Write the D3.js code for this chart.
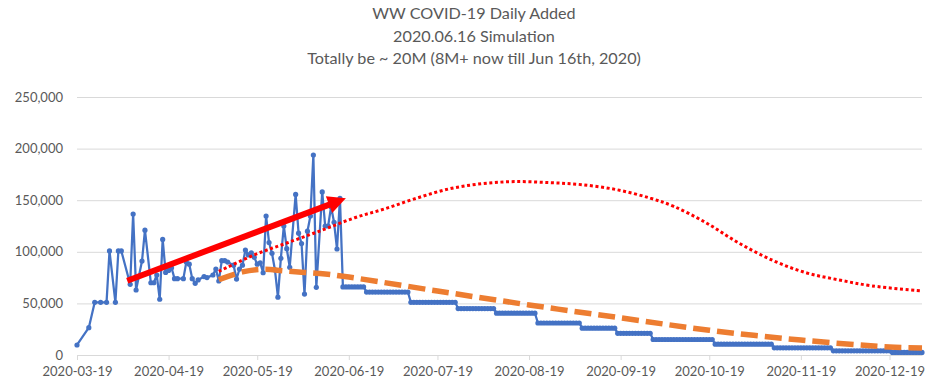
<!DOCTYPE html>
<html>
<head>
<meta charset="utf-8">
<script src="https://cdn.jsdelivr.net/npm/d3@7"></script>
<style>
  html, body { margin: 0; padding: 0; background: #fff; }
  svg { display: block; }
  text { font-family: Lato, "Open Sans", sans-serif; fill: #595959; }
</style>
</head>
<body>
<svg id="chart" width="935" height="392"></svg>
<script>
// ---------- data ----------
const titleLines = [
  "WW COVID-19 Daily Added",
  "2020.06.16 Simulation",
  "Totally be ~ 20M (8M+ now till Jun 16th, 2020)"
];

// actual daily added cases (blue)
const actualDates = [
  "2020-03-19","2020-03-23","2020-03-25","2020-03-27","2020-03-29","2020-03-30",
  "2020-04-01","2020-04-02","2020-04-03","2020-04-06","2020-04-07","2020-04-08",
  "2020-04-10","2020-04-11","2020-04-13","2020-04-14","2020-04-15","2020-04-16",
  "2020-04-17","2020-04-18","2020-04-19","2020-04-20","2020-04-21","2020-04-22",
  "2020-04-24","2020-04-25","2020-04-26","2020-04-27","2020-04-28","2020-04-29",
  "2020-05-01","2020-05-02","2020-05-04","2020-05-05","2020-05-06","2020-05-07",
  "2020-05-08","2020-05-09","2020-05-11","2020-05-12","2020-05-13","2020-05-14",
  "2020-05-15","2020-05-16","2020-05-17","2020-05-18","2020-05-19","2020-05-20",
  "2020-05-21","2020-05-22","2020-05-23","2020-05-24","2020-05-25","2020-05-26",
  "2020-05-27","2020-05-28","2020-05-29","2020-05-30","2020-06-01","2020-06-02",
  "2020-06-03","2020-06-04","2020-06-05","2020-06-06","2020-06-07","2020-06-08",
  "2020-06-10","2020-06-11","2020-06-12","2020-06-13","2020-06-14","2020-06-15",
  "2020-06-16"
];
const actualValues = [
  9700, 26500, 51000, 51000, 51000, 100800,
  51000, 100800, 100800, 68500, 136600, 63000,
  91000, 121000, 70000, 70000, 77500, 54000,
  112000, 80000, 82000, 84500, 74000, 74000,
  74000, 90000, 88000, 74000, 69500, 72700,
  76000, 75000, 77500, 83300, 71700, 91400,
  91400, 90000, 87000, 73600, 83300, 87000,
  101700, 97000, 99000, 94600, 88000, 89400,
  79700, 134700, 109000, 98500, 82400, 56000,
  93700, 125000, 103000, 85000, 155600, 118000,
  108000, 59000, 120000, 134700, 193800, 65600,
  158000, 125000, 125000, 143700, 128600, 102700,
  151800
];

// simulated step levels (blue, daily after 06-16)
const stepStartDates = [
  "2020-06-17","2020-06-25","2020-07-10","2020-07-26","2020-08-08","2020-08-22",
  "2020-09-06","2020-09-18","2020-09-30","2020-10-21","2020-11-10","2020-11-30",
  "2020-12-20"
];
const stepLevels = [66000, 61000, 51000, 45000, 40500, 31000, 26000, 21000, 15000, 10500, 7000, 4000, 2500];
const stepEndDate = "2020-12-30";

// red dotted curve
const redDates = [
  "2020-05-06","2020-05-18","2020-05-29","2020-06-10","2020-06-21","2020-07-01",
  "2020-07-12","2020-07-23","2020-08-03","2020-08-14","2020-08-26","2020-09-06",
  "2020-09-18","2020-09-29","2020-10-07","2020-10-18","2020-10-29","2020-11-10",
  "2020-11-21","2020-12-02","2020-12-13","2020-12-30"
];
const redValues = [
  81000, 97000, 108500, 121000, 133000, 141500,
  152000, 161000, 166000, 168000, 167000, 165000,
  160000, 152000, 144000, 128000, 108500, 91000,
  79500, 72700, 67000, 62000
];

// orange dashed curve
const orangeDates = [
  "2020-05-06","2020-05-14","2020-05-21","2020-05-28","2020-06-04","2020-06-11",
  "2020-06-19","2020-07-19","2020-08-19","2020-09-19","2020-10-19","2020-11-19",
  "2020-12-19","2020-12-30"
];
const orangeValues = [
  73000, 80500, 83000, 81500, 80000, 78500,
  75500, 62000, 48500, 36000, 24000, 14500,
  7800, 6800
];

// red trend arrow (start, end)
const arrowDates = ["2020-04-05", "2020-06-18"];
const arrowValues = [72000, 151800];

const xTickLabels = [
  "2020-03-19","2020-04-19","2020-05-19","2020-06-19","2020-07-19",
  "2020-08-19","2020-09-19","2020-10-19","2020-11-19","2020-12-19"
];
const yTickValues = [0, 50000, 100000, 150000, 200000, 250000];

// ---------- drawing ----------
const parse = d3.utcParse("%Y-%m-%d");
const fmtDate = d3.utcFormat("%Y-%m-%d");
const svg = d3.select("#chart");

const plot = { left: 77, right: 922, top: 97, bottom: 355 };

const x = d3.scaleUtc()
  .domain([parse("2020-03-19"), parse(stepEndDate)])
  .range([plot.left, plot.right]);
const y = d3.scaleLinear()
  .domain([0, 250000])
  .range([plot.bottom, plot.top]);

// title
svg.append("g").selectAll("text")
  .data(titleLines).join("text")
  .attr("x", 474)
  .attr("y", (d, i) => 19 + i * 22.5)
  .attr("text-anchor", "middle")
  .style("font-size", "16.2px")
  .text(d => d);

// gridlines + y axis labels
const yAxis = d3.axisLeft(y)
  .tickValues(yTickValues)
  .tickFormat(d3.format(","))
  .tickSize(-(plot.right - plot.left))
  .tickPadding(14);
const gy = svg.append("g")
  .attr("transform", `translate(${plot.left},0)`)
  .call(yAxis);
gy.select(".domain").remove();
gy.selectAll(".tick line").attr("stroke", "#D9D9D9").attr("stroke-width", 1);
gy.selectAll(".tick text")
  .style("font-size", "13px")
  .style("font-family", "Lato, sans-serif")
  .attr("fill", "#595959");

// x axis
const xAxis = d3.axisBottom(x)
  .tickValues(xTickLabels.map(parse))
  .tickFormat(fmtDate)
  .tickSize(5)
  .tickSizeOuter(0)
  .tickPadding(7);
const gx = svg.append("g")
  .attr("transform", `translate(0,${plot.bottom})`)
  .call(xAxis);
gx.select(".domain").attr("stroke", "#D9D9D9");
gx.selectAll(".tick line").attr("stroke", "#D9D9D9");
gx.selectAll(".tick text")
  .style("font-size", "13px")
  .style("font-family", "Lato, sans-serif")
  .attr("fill", "#595959");

// build blue series: actual + daily step levels
const blue = actualDates.map((d, i) => ({ date: parse(d), value: actualValues[i] }));
const endDay = parse(stepEndDate);
stepStartDates.forEach((s, i) => {
  const start = parse(s);
  const stop = i < stepStartDates.length - 1 ? parse(stepStartDates[i + 1]) : d3.utcDay.offset(endDay, 1);
  d3.utcDays(start, stop).forEach(day => blue.push({ date: day, value: stepLevels[i] }));
});

const line = d3.line().x(d => x(d.date)).y(d => y(d.value));

svg.append("path")
  .datum(blue)
  .attr("d", line)
  .attr("fill", "none")
  .attr("stroke", "#4472C4")
  .attr("stroke-width", 2.25)
  .attr("stroke-linejoin", "round");

svg.append("g").selectAll("circle")
  .data(blue).join("circle")
  .attr("cx", d => x(d.date))
  .attr("cy", d => y(d.value))
  .attr("r", 2.6)
  .attr("fill", "#4472C4");

// orange dashed
const orange = orangeDates.map((d, i) => ({ date: parse(d), value: orangeValues[i] }));
svg.append("path")
  .datum(orange)
  .attr("d", line.curve(d3.curveCatmullRom.alpha(0.5)))
  .attr("fill", "none")
  .attr("stroke", "#ED7D31")
  .attr("stroke-width", 5.5)
  .attr("stroke-dasharray", "17,7");

// red dotted
const red = redDates.map((d, i) => ({ date: parse(d), value: redValues[i] }));
svg.append("path")
  .datum(red)
  .attr("d", line.curve(d3.curveCatmullRom.alpha(0.5)))
  .attr("fill", "none")
  .attr("stroke", "#FF0000")
  .attr("stroke-width", 3)
  .attr("stroke-dasharray", "3,2.6");

// arrow
const ax0 = x(parse(arrowDates[0])), ay0 = y(arrowValues[0]);
const ax1 = x(parse(arrowDates[1])), ay1 = y(arrowValues[1]);
const ang = Math.atan2(ay1 - ay0, ax1 - ax0);
const headLen = 18, headHalf = 9;
const bx = ax1 - headLen * Math.cos(ang), by = ay1 - headLen * Math.sin(ang);
svg.append("line")
  .attr("x1", ax0).attr("y1", ay0)
  .attr("x2", bx + Math.cos(ang)).attr("y2", by + Math.sin(ang))
  .attr("stroke", "#FF0000")
  .attr("stroke-width", 6);
const px = -Math.sin(ang), py = Math.cos(ang);
svg.append("path")
  .attr("d", `M${ax1},${ay1}L${bx + px * headHalf},${by + py * headHalf}L${bx - px * headHalf},${by - py * headHalf}Z`)
  .attr("fill", "#FF0000");
</script>
</body>
</html>
